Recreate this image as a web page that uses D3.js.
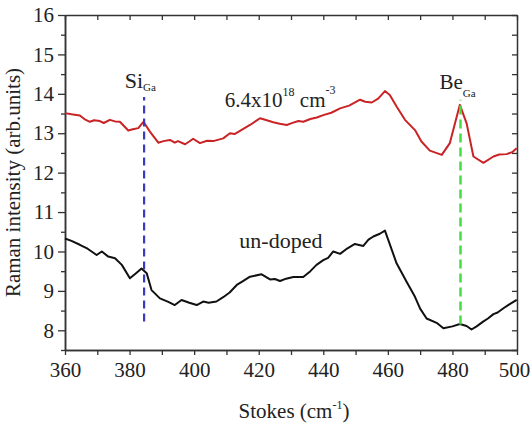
<!DOCTYPE html>
<html>
<head>
<meta charset="utf-8">
<script src="https://cdn.jsdelivr.net/npm/d3@7"></script>
<style>
  body { margin: 0; background: #fff; }
</style>
</head>
<body>
<div id="chart"></div>
<script>
// Data
var stokesDoped = [360, 362, 364.6, 366, 367.7, 369, 370.8, 372, 373.9, 375.5, 377, 379.6, 381, 382.7, 384.3, 386.3, 388.9, 390.5, 392.5, 394, 395, 397.2, 398.5, 399.7, 401.8, 404, 405.9, 409, 411.1, 412.5, 414.2, 417.3, 420.4, 422.5, 424.5, 426.5, 428.7, 430, 432.3, 433.8, 436, 438, 440, 442.5, 445.2, 448, 451.4, 453, 455, 457, 459.1, 460.6, 462.7, 465.3, 468.4, 470.4, 473, 476.7, 479.2, 482.3, 484.4, 486.5, 489.6, 492.7, 494.5, 496.8, 498.5, 499.9];
var ramanDoped  = [13.51, 13.48, 13.45, 13.36, 13.29, 13.33, 13.31, 13.26, 13.34, 13.30, 13.29, 13.07, 13.10, 13.13, 13.29, 13.04, 12.76, 12.80, 12.83, 12.76, 12.80, 12.72, 12.79, 12.86, 12.75, 12.81, 12.80, 12.87, 13.00, 12.98, 13.06, 13.21, 13.38, 13.33, 13.28, 13.24, 13.21, 13.25, 13.31, 13.29, 13.36, 13.40, 13.46, 13.52, 13.63, 13.70, 13.85, 13.80, 13.78, 13.88, 14.07, 13.97, 13.68, 13.34, 13.08, 12.79, 12.56, 12.45, 12.75, 13.72, 13.25, 12.41, 12.25, 12.41, 12.46, 12.47, 12.52, 12.62];

var stokesUndoped = [360, 362, 364.6, 367, 369.8, 371.4, 373.4, 375.5, 377.6, 380.1, 382, 383.7, 385.3, 386.8, 389.4, 392, 394, 396.1, 398.5, 400.8, 402.8, 404.5, 406.9, 409, 411, 413.2, 415, 417.3, 420.9, 423.5, 425, 426.6, 428.5, 430.7, 433.8, 436, 437.9, 440, 441.5, 443.1, 445.2, 447.5, 449.8, 452.4, 454, 455.5, 457.5, 459.1, 462.7, 465.8, 468.4, 470, 472, 475.1, 477.2, 480, 482.3, 484.4, 485.9, 487.5, 489.5, 491, 492.7, 494, 495.8, 497.5, 499.9];
var ramanUndoped  = [10.33, 10.27, 10.17, 10.07, 9.91, 10.0, 9.87, 9.83, 9.66, 9.32, 9.45, 9.57, 9.45, 9.02, 8.81, 8.72, 8.64, 8.77, 8.70, 8.64, 8.73, 8.70, 8.73, 8.84, 8.96, 9.15, 9.24, 9.36, 9.42, 9.29, 9.30, 9.25, 9.31, 9.35, 9.35, 9.50, 9.66, 9.78, 9.84, 10.0, 9.94, 10.08, 10.19, 10.14, 10.30, 10.38, 10.45, 10.53, 9.70, 9.23, 8.85, 8.55, 8.30, 8.19, 8.05, 8.10, 8.16, 8.11, 8.02, 8.10, 8.22, 8.30, 8.41, 8.45, 8.56, 8.65, 8.77];

var xTicks = [360, 380, 400, 420, 440, 460, 480, 500];
var yTicks = [8, 9, 10, 11, 12, 13, 14, 15, 16];

// Marker lines (position, y from, y to)
var siLine = {x: 384.5, y0: 8.22, y1: 13.92};
var beLine = {x: 482.5, y0: 8.15, y1: 13.85};

var font = "Liberation Serif";

// Margin convention
var margin = {top: 15, right: 14, bottom: 74, left: 65};
var width = 531 - margin.left - margin.right;
var height = 424 - margin.top - margin.bottom;

var svg = d3.select("#chart")
            .append("svg")
            .attr("width", 531)
            .attr("height", 424)
            .attr("font-family", font)
            .append("g")
            .attr("transform", "translate(" + margin.left + "," + margin.top + ")");

var x = d3.scaleLinear().domain([360, 500]).range([0, width]);
var y = d3.scaleLinear().domain([7.5, 16]).range([height, 0]);

// Axes
var axisColor = "#333";
function styleAxis(g) {
    g.attr("font-family", font).attr("font-size", 21);
    g.select(".domain").attr("stroke", axisColor).attr("stroke-width", 1.5);
    g.selectAll(".tick line").attr("stroke", axisColor).attr("stroke-width", 1.3);
    g.selectAll("text").attr("fill", "#222");
}

// minor ticks
svg.append("g").attr("transform", "translate(0," + height + ")")
   .call(d3.axisBottom(x).tickValues(d3.range(370, 500, 20)).tickSize(5).tickFormat("").tickSizeOuter(0))
   .call(styleAxis);
svg.append("g")
   .call(d3.axisLeft(y).tickValues(d3.range(7.5, 16, 1)).tickSize(4).tickFormat("").tickSizeOuter(0))
   .call(styleAxis);

var bottomAxis = svg.append("g").attr("transform", "translate(0," + height + ")")
   .call(d3.axisBottom(x).tickValues(xTicks).tickSize(5).tickPadding(7).tickSizeOuter(0))
   .call(styleAxis);
// last label sits at the page edge, nudge it in
bottomAxis.selectAll(".tick text").filter(function(d) { return d === 500; }).attr("dx", -3);

svg.append("g")
   .call(d3.axisLeft(y).tickValues(yTicks).tickSize(7).tickPadding(4).tickSizeOuter(0))
   .call(styleAxis);

svg.append("g")
   .call(d3.axisTop(x).tickValues(d3.range(360, 501, 10)).tickSize(-5).tickFormat("").tickSizeOuter(0))
   .call(styleAxis);
svg.append("g").attr("transform", "translate(" + width + ",0)")
   .call(d3.axisRight(y).tickValues(d3.range(7.5, 16.01, 0.5)).tickSize(-5).tickFormat("").tickSizeOuter(0))
   .call(styleAxis);

// Lines
var line = d3.line().x(function(d) { return x(d[0]); }).y(function(d) { return y(d[1]); });

svg.append("path")
   .datum(d3.zip(stokesDoped, ramanDoped))
   .attr("fill", "none")
   .attr("stroke", "#c92325")
   .attr("stroke-width", 2)
   .attr("stroke-linejoin", "round")
   .attr("d", line);

svg.append("path")
   .datum(d3.zip(stokesUndoped, ramanUndoped))
   .attr("fill", "none")
   .attr("stroke", "#111")
   .attr("stroke-width", 2)
   .attr("stroke-linejoin", "round")
   .attr("d", line);

// Dashed marker lines
svg.append("line")
   .attr("x1", x(siLine.x)).attr("x2", x(siLine.x))
   .attr("y1", y(siLine.y0)).attr("y2", y(siLine.y1))
   .attr("stroke", "#3a3ac0").attr("stroke-width", 2.2)
   .attr("stroke-dasharray", "8 5");
svg.append("line")
   .attr("x1", x(beLine.x)).attr("x2", x(beLine.x))
   .attr("y1", y(beLine.y0)).attr("y2", y(beLine.y1))
   .attr("stroke", "#44dd44").attr("stroke-width", 2.5)
   .attr("stroke-dasharray", "9 5");

// Annotations (y given in page pixels)
function label(xv, yv, size) {
    return svg.append("text").attr("x", x(xv)).attr("y", yv - margin.top)
              .attr("font-family", font).attr("font-size", size).attr("fill", "#222");
}

var si = label(378.5, 88, 22);
si.append("tspan").text("Si");
si.append("tspan").attr("dy", 3).attr("font-size", 11).text("Ga");

var be = label(476, 89, 21);
be.append("tspan").text("Be");
be.append("tspan").attr("dy", 8).attr("font-size", 11).text("Ga");

var dop = label(409.5, 107, 21);
dop.append("tspan").text("6.4x10");
dop.append("tspan").attr("dy", -11).attr("font-size", 12).text("18");
dop.append("tspan").attr("dy", 11).text("\u00a0cm");
dop.append("tspan").attr("dy", -13).attr("font-size", 12).text("-3");

label(414, 248, 22).text("un-doped");

// Axis titles
var xt = svg.append("text").attr("x", width / 2 + 3).attr("y", height + 68)
   .attr("text-anchor", "middle").attr("font-family", font).attr("font-size", 21).attr("fill", "#222");
xt.append("tspan").text("Stokes (cm");
xt.append("tspan").attr("dy", -9).attr("font-size", 12).text("-1");
xt.append("tspan").attr("dy", 9).text(")");

svg.append("text")
   .attr("transform", "translate(" + (-45) + "," + (height / 2) + ") rotate(-90)")
   .attr("text-anchor", "middle").attr("font-family", font).attr("font-size", 21).attr("fill", "#222")
   .text("Raman intensity (arb.units)");
</script>
</body>
</html>
